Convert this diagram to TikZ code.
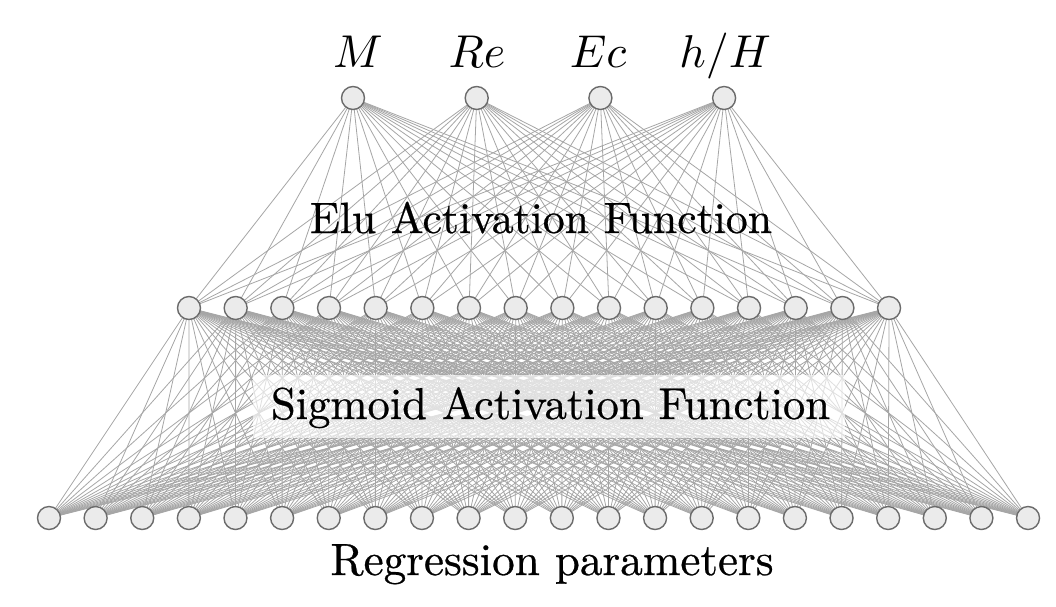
\documentclass[tikz,border=0pt]{standalone}
\usepackage{fontspec}
\usepackage{graphicx}
\newfontface\heavyrm{Latin Modern Roman}[FakeBold=0.6]
\pgfdeclarelayer{background}
\pgfdeclarelayer{mid}
\pgfsetlayers{background,mid,main}
\begin{document}
\begin{tikzpicture}[x=1pt,y=-1pt,
  neuron/.style={circle,draw=black!58,fill=black!8,line width=1.4pt,minimum size=23pt,inner sep=0pt},
  link/.style={draw=black!35,line width=0.8pt},
  lbl/.style={anchor=base,inner sep=0pt,text=black}]
\useasboundingbox (0,0) rectangle (1056,606);
\foreach \i in {1,...,4} \node[neuron] (t\i) at ({353+(\i-1)*123.7},98) {};
\foreach \i in {1,...,16} \node[neuron] (m\i) at ({189+(\i-1)*46.67},308) {};
\foreach \i in {1,...,22} \node[neuron] (b\i) at ({49+(\i-1)*46.62},518) {};
\begin{pgfonlayer}{background}
\fill[white] (0,0) rectangle (1056,606);
\foreach \i in {1,...,4}
  \foreach \j in {1,...,16}
    \draw[link] (t\i.center) -- (m\j.center);
\foreach \i in {1,...,16}
  \foreach \j in {1,...,22}
    \draw[link] (m\i.center) -- (b\j.center);
\end{pgfonlayer}
\begin{pgfonlayer}{mid}
\fill[white,fill opacity=0.65] (253,375) rectangle (845,438);
\end{pgfonlayer}
\node[lbl] (lM) at (358,67) {\scalebox{4.6}{$M$}};
\node[lbl] (lRe) at (477,67) {\scalebox{4.6}{$Re$}};
\node[lbl] (lEc) at (598,67) {\scalebox{4.6}{$Ec$}};
\node[lbl] (lH) at (725,67) {\scalebox{4.6}{$h/H$}};
\node[lbl] (elu) at (541,233) {\resizebox{462pt}{!}{\heavyrm Elu Activation Function}};
\node[lbl] (sig) at (550.5,419) {\resizebox{559pt}{!}{\heavyrm Sigmoid Activation Function}};
\node[lbl] (reg) at (552,575) {\resizebox{443pt}{!}{\heavyrm Regression parameters}};
\end{tikzpicture}
\end{document}
